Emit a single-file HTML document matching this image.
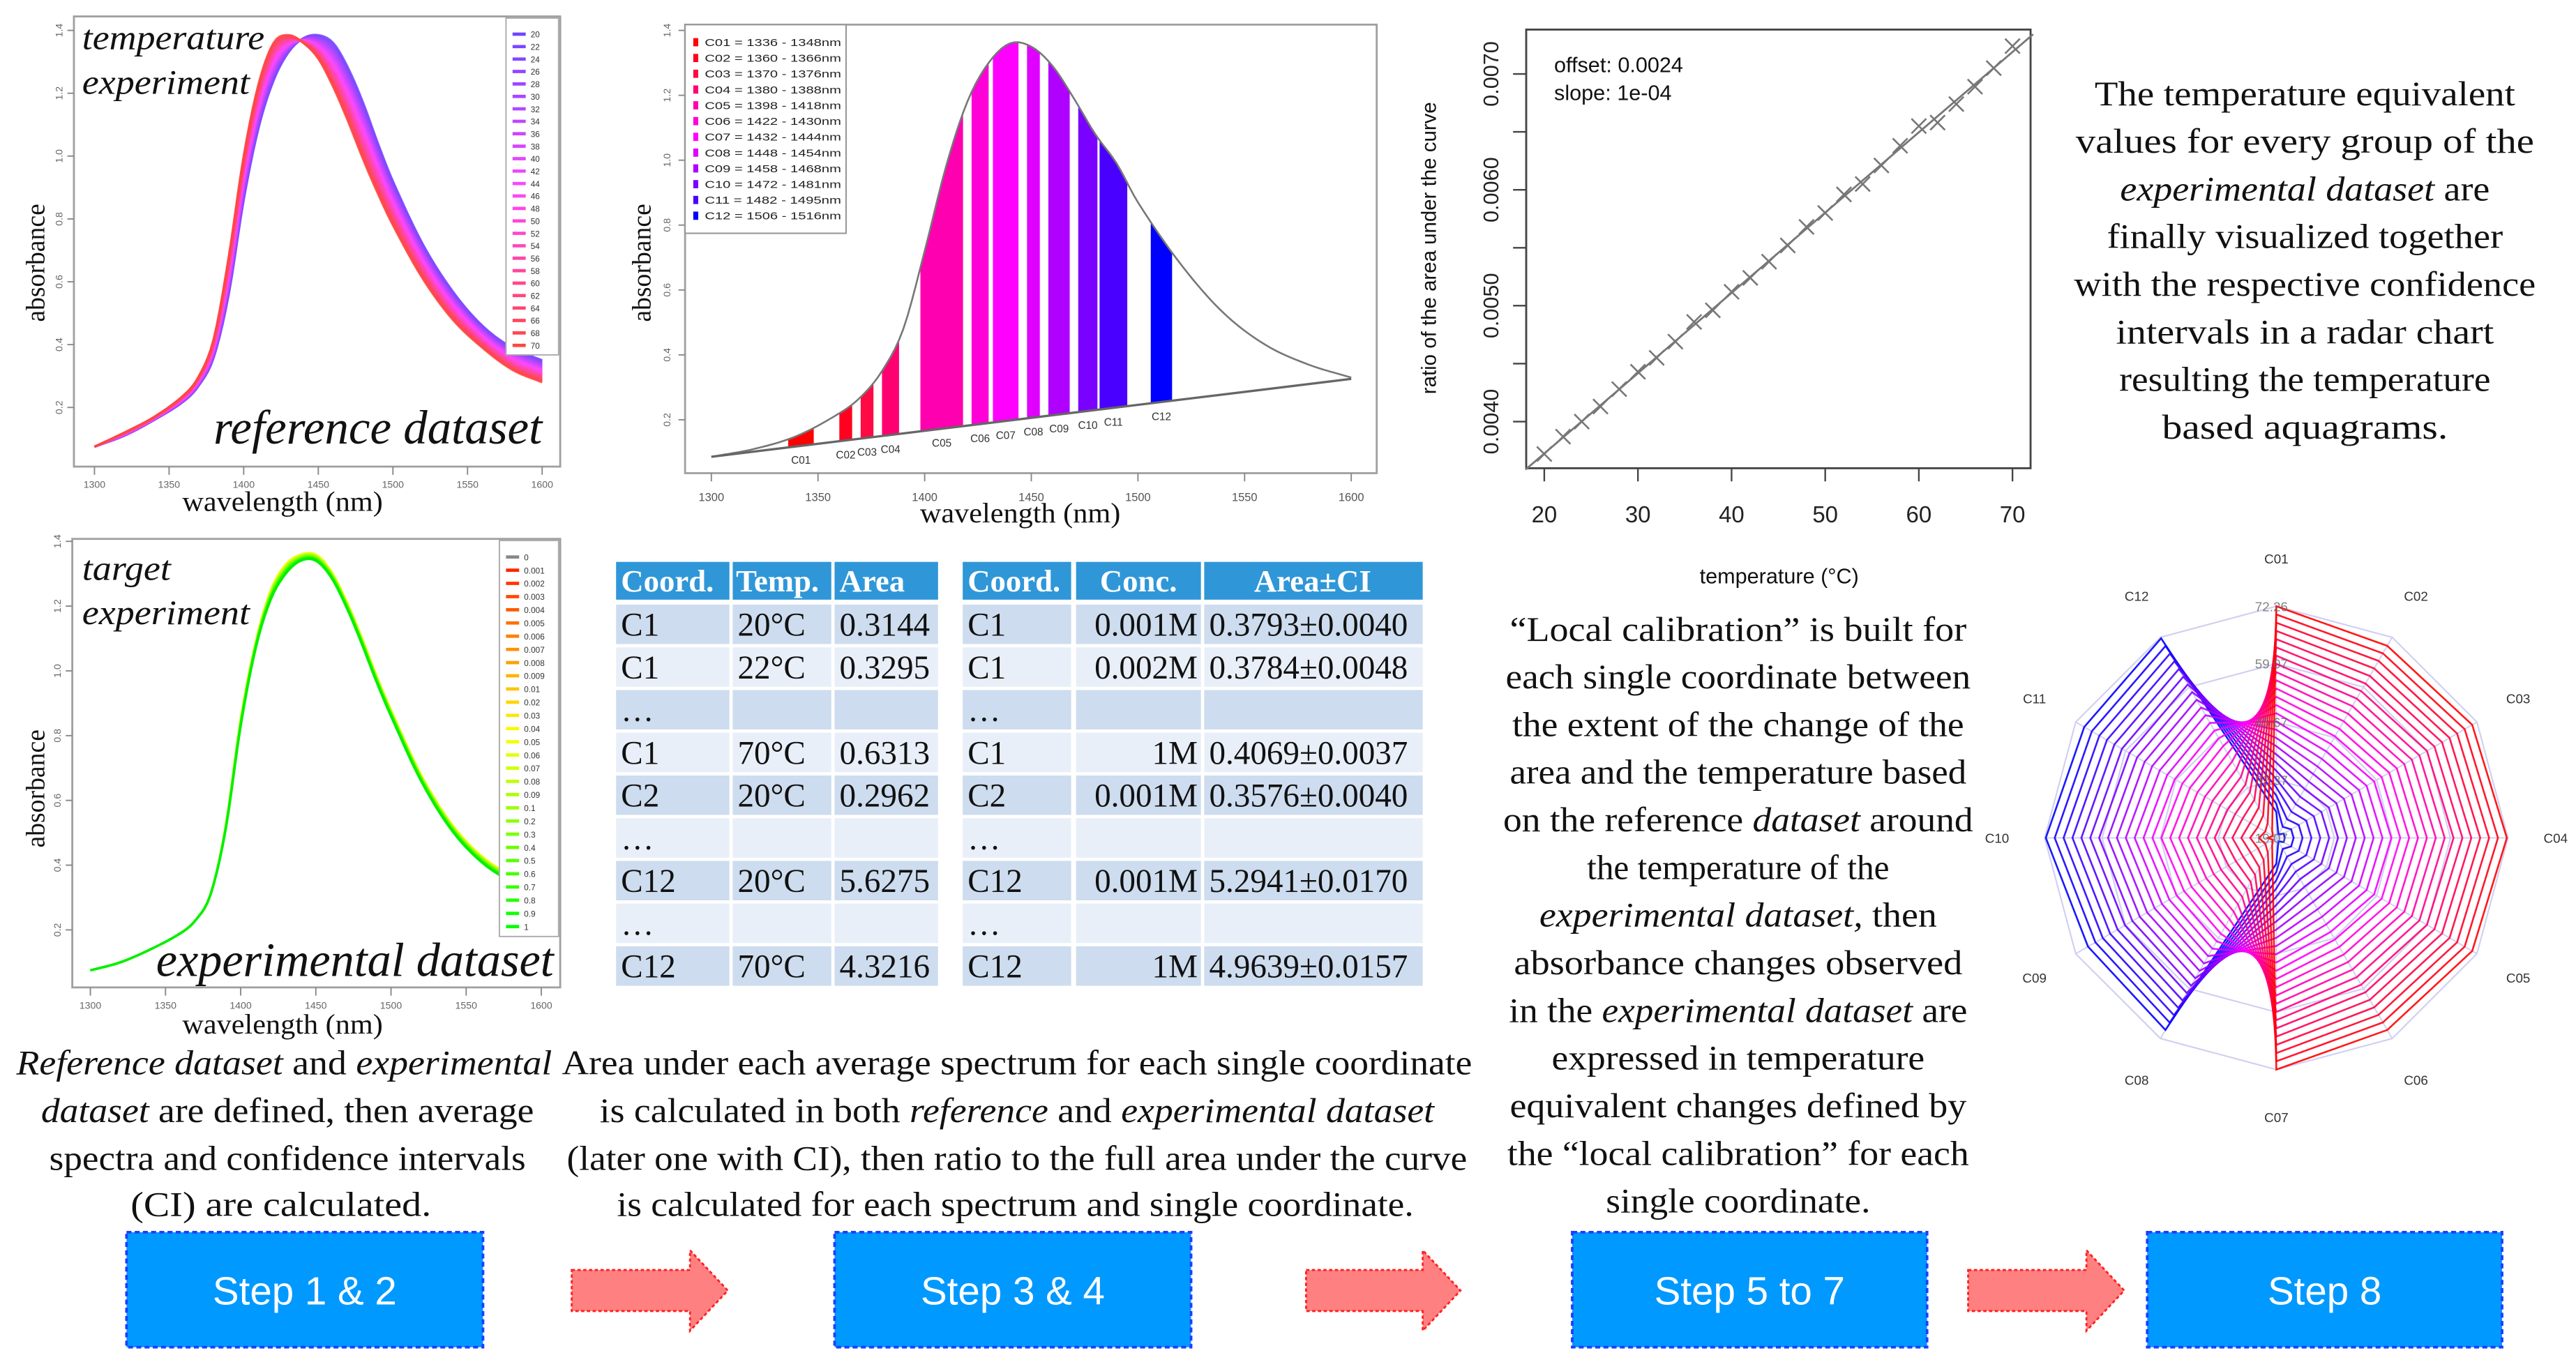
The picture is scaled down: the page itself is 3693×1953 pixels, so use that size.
<!DOCTYPE html>
<html><head><meta charset="utf-8">
<style>html,body{margin:0;padding:0;background:#fff}svg{display:block}</style>
</head><body>
<svg id="root" width="3693" height="1953" viewBox="0 0 1568 829" preserveAspectRatio="none" xmlns="http://www.w3.org/2000/svg" font-family="Liberation Serif, serif">
<rect x="0" y="0" width="1568" height="829" fill="#fff"/>

<!-- right description -->
<g font-size="21" fill="#111" text-anchor="middle">
<text x="1403" y="64" textLength="256" lengthAdjust="spacingAndGlyphs">The temperature equivalent</text>
<text x="1403" y="93" textLength="279" lengthAdjust="spacingAndGlyphs">values for every group of the</text>
<text x="1403" y="122" textLength="225" lengthAdjust="spacingAndGlyphs"><tspan font-style="italic">experimental dataset</tspan> are</text>
<text x="1403" y="151" textLength="241" lengthAdjust="spacingAndGlyphs">finally visualized together</text>
<text x="1403" y="180" textLength="281" lengthAdjust="spacingAndGlyphs">with the respective confidence</text>
<text x="1403" y="209" textLength="230" lengthAdjust="spacingAndGlyphs">intervals in a radar chart</text>
<text x="1403" y="238" textLength="226" lengthAdjust="spacingAndGlyphs">resulting the temperature</text>
<text x="1403" y="267" textLength="174" lengthAdjust="spacingAndGlyphs">based aquagrams.</text>
</g>

<!-- step 5-7 description -->
<g font-size="21" fill="#111" text-anchor="middle">
<text x="1058" y="390" textLength="278" lengthAdjust="spacingAndGlyphs">“Local calibration” is built for</text>
<text x="1058" y="419" textLength="283" lengthAdjust="spacingAndGlyphs">each single coordinate between</text>
<text x="1058" y="448" textLength="275" lengthAdjust="spacingAndGlyphs">the extent of the change of the</text>
<text x="1058" y="477" textLength="278" lengthAdjust="spacingAndGlyphs">area and the temperature based</text>
<text x="1058" y="506" textLength="286" lengthAdjust="spacingAndGlyphs">on the reference <tspan font-style="italic">dataset</tspan> around</text>
<text x="1058" y="535" textLength="184" lengthAdjust="spacingAndGlyphs">the temperature of the</text>
<text x="1058" y="564" textLength="242" lengthAdjust="spacingAndGlyphs"><tspan font-style="italic">experimental dataset,</tspan> then</text>
<text x="1058" y="593" textLength="273" lengthAdjust="spacingAndGlyphs">absorbance changes observed</text>
<text x="1058" y="622" textLength="279" lengthAdjust="spacingAndGlyphs">in the <tspan font-style="italic">experimental dataset</tspan> are</text>
<text x="1058" y="651" textLength="227" lengthAdjust="spacingAndGlyphs">expressed in temperature</text>
<text x="1058" y="680" textLength="278" lengthAdjust="spacingAndGlyphs">equivalent changes defined by</text>
<text x="1058" y="709" textLength="281" lengthAdjust="spacingAndGlyphs">the “local calibration” for each</text>
<text x="1058" y="738" textLength="161" lengthAdjust="spacingAndGlyphs">single coordinate.</text>
</g>

<!-- step 1-2 description -->
<g font-size="21" fill="#111" text-anchor="middle">
<text x="173" y="654" textLength="326" lengthAdjust="spacingAndGlyphs"><tspan font-style="italic">Reference dataset</tspan> and <tspan font-style="italic">experimental</tspan></text>
<text x="175" y="683" textLength="300" lengthAdjust="spacingAndGlyphs"><tspan font-style="italic">dataset</tspan> are defined, then average</text>
<text x="175" y="712" textLength="290" lengthAdjust="spacingAndGlyphs">spectra and confidence intervals</text>
<text x="171" y="740" textLength="183" lengthAdjust="spacingAndGlyphs">(CI)  are calculated.</text>
</g>
<g font-size="21" fill="#111" text-anchor="middle">
<text x="619" y="654" textLength="554" lengthAdjust="spacingAndGlyphs">Area under each average spectrum for each single coordinate</text>
<text x="619" y="683" textLength="508" lengthAdjust="spacingAndGlyphs">is calculated in both <tspan font-style="italic">reference</tspan> and <tspan font-style="italic">experimental dataset</tspan></text>
<text x="619" y="712" textLength="548" lengthAdjust="spacingAndGlyphs">(later one with CI), then ratio to the full area under the curve</text>
<text x="618" y="740" textLength="485" lengthAdjust="spacingAndGlyphs">is calculated for each spectrum and single coordinate.</text>
</g>

<!-- step boxes -->
<g font-family="Liberation Sans, sans-serif" font-size="24" fill="#fff" text-anchor="middle">
<g><rect x="77" y="750" width="217" height="70" fill="#0099ff" stroke="#1f3dff" stroke-width="1.6" stroke-dasharray="3 2"/><text x="185.5" y="794">Step 1 &amp; 2</text></g>
<g><rect x="508" y="750" width="217" height="70" fill="#0099ff" stroke="#1f3dff" stroke-width="1.6" stroke-dasharray="3 2"/><text x="616.5" y="794">Step 3 &amp; 4</text></g>
<g><rect x="957" y="750" width="216" height="70" fill="#0099ff" stroke="#1f3dff" stroke-width="1.6" stroke-dasharray="3 2"/><text x="1065" y="794">Step 5 to 7</text></g>
<g><rect x="1307" y="750" width="216" height="70" fill="#0099ff" stroke="#1f3dff" stroke-width="1.6" stroke-dasharray="3 2"/><text x="1415" y="794">Step 8</text></g>
</g>
<g fill="#ff8080" stroke="#ff2020" stroke-width="1.2" stroke-dasharray="2 1.5">
<polygon points="348,773 420,773 420,761 443,785.5 420,810 420,798 348,798"/>
<polygon points="795,773 866,773 866,761 889,785.5 866,810 866,798 795,798"/>
<polygon points="1198,773 1270,773 1270,761 1293,785.5 1270,810 1270,798 1198,798"/>
</g>

<!-- tables -->
<g font-size="20" fill="#111">
<rect x="375" y="342" width="69" height="23" fill="#2f97d8"/><rect x="446" y="342" width="60" height="23" fill="#2f97d8"/><rect x="508" y="342" width="63" height="23" fill="#2f97d8"/>
<g fill="#fff" font-weight="bold" font-size="19"><text x="378" y="360">Coord.</text><text x="448" y="360">Temp.</text><text x="511" y="360">Area</text></g>
</g>
<g font-size="20" fill="#111">
<rect x="586" y="342" width="66" height="23" fill="#2f97d8"/><rect x="655" y="342" width="76" height="23" fill="#2f97d8"/><rect x="733" y="342" width="133" height="23" fill="#2f97d8"/>
<g fill="#fff" font-weight="bold" font-size="19"><text x="589" y="360">Coord.</text><text x="693" y="360" text-anchor="middle">Conc.</text><text x="799" y="360" text-anchor="middle">Area±CI</text></g>
</g>
<g id="tables"></g>

<g id="p1"></g><g id="p2"></g><g id="p3"></g><g id="p4"></g><g id="radar"></g>
</svg>
<script>
// ---------- DATA ----------
const wl = [1300,1320,1340,1360,1370,1380,1390,1400,1410,1420,1430,1440,1450,1460,1470,1480,1490,1500,1520,1540,1560,1580,1600];
const refTemps = [20,22,24,26,28,30,32,34,36,38,40,42,44,46,48,50,52,54,56,58,60,62,64,66,68,70];
const spec20 = [0.075,0.11,0.16,0.22,0.27,0.36,0.56,0.86,1.09,1.24,1.33,1.375,1.385,1.36,1.28,1.17,1.04,0.92,0.72,0.57,0.46,0.39,0.35];
const spec70 = [0.075,0.12,0.17,0.24,0.30,0.42,0.68,1.00,1.23,1.36,1.385,1.36,1.31,1.22,1.11,0.99,0.88,0.78,0.61,0.48,0.39,0.32,0.28];
const concLabels = ["0","0.001","0.002","0.003","0.004","0.005","0.006","0.007","0.008","0.009","0.01","0.02","0.03","0.04","0.05","0.06","0.07","0.08","0.09","0.1","0.2","0.3","0.4","0.5","0.6","0.7","0.8","0.9","1"];
const specLowConc = [0.075,0.10,0.14,0.19,0.23,0.31,0.52,0.85,1.09,1.25,1.33,1.36,1.36,1.31,1.22,1.11,0.99,0.88,0.68,0.53,0.43,0.37,0.34];
const specHighConc = [0.075,0.10,0.14,0.19,0.23,0.31,0.51,0.83,1.07,1.22,1.30,1.34,1.34,1.29,1.20,1.09,0.97,0.86,0.66,0.51,0.41,0.35,0.32];
const avgSpec = [0.086,0.11,0.15,0.22,0.27,0.35,0.48,0.72,0.98,1.18,1.30,1.36,1.35,1.29,1.19,1.08,0.99,0.87,0.68,0.53,0.43,0.37,0.33];
const baseStart = 0.086, baseEnd = 0.326;
const coordNames = ["C01","C02","C03","C04","C05","C06","C07","C08","C09","C10","C11","C12"];
const coordFrom = [1336,1360,1370,1380,1398,1422,1432,1448,1458,1472,1482,1506];
const coordTo   = [1348,1366,1376,1388,1418,1430,1444,1454,1468,1481,1495,1516];
const coordColors = ["#ff0000","#ff0020","#ff0a45","#ff0070","#ff00b0","#ff00d8","#ff00ff","#e000ff","#b000ff","#7a00ff","#4a00ff","#0000ff"];
const calTemps = [20,22,24,26,28,30,32,34,36,38,40,42,44,46,48,50,52,54,56,58,60,62,64,66,68,70];
const calRatio = [0.00372,0.00387,0.00400,0.00413,0.00428,0.00443,0.00455,0.00469,0.00486,0.00496,0.00512,0.00524,0.00538,0.00552,0.00568,0.00580,0.00596,0.00605,0.00621,0.00638,0.00655,0.00658,0.00674,0.00689,0.00705,0.00724];
const calXTicks = [20,30,40,50,60,70];
const calYTicks = [0.0040,0.0045,0.0050,0.0055,0.0060,0.0065,0.0070];
const calYLabels = ["0.0040","0.0050","0.0060","0.0070"];
const radarRingVals = [19.07,32.37,45.67,59.07,72.26];
const radarLow  = [25,20,21,21,21,20,25,70,69,72,70,72];
const radarHigh = [72.26,70,71,72,71,70,72.26,21,20,21,20,21];
const tableLeft = [["C1","20°C","0.3144"],["C1","22°C","0.3295"],["…","",""],["C1","70°C","0.6313"],["C2","20°C","0.2962"],["…","",""],["C12","20°C","5.6275"],["…","",""],["C12","70°C","4.3216"]];
const tableRight = [["C1","0.001M","0.3793±0.0040"],["C1","0.002M","0.3784±0.0048"],["…","",""],["C1","1M","0.4069±0.0037"],["C2","0.001M","0.3576±0.0040"],["…","",""],["C12","0.001M","5.2941±0.0170"],["…","",""],["C12","1M","4.9639±0.0157"]];

// ---------- helpers ----------
const NS = "http://www.w3.org/2000/svg";
function mk(tag, attrs, parent){const e=document.createElementNS(NS,tag);for(const k in attrs)e.setAttribute(k,attrs[k]);parent.appendChild(e);return e;}
function interp(xs, ys, x){
  let i=0; while(i<xs.length-2 && x>xs[i+1]) i++;
  const x0=xs[i],x1=xs[i+1],t=(x-x0)/(x1-x0);
  const p0=ys[Math.max(0,i-1)],p1=ys[i],p2=ys[i+1],p3=ys[Math.min(ys.length-1,i+2)];
  const h0=xs[Math.max(0,i-1)],h3=xs[Math.min(xs.length-1,i+2)];
  const m1=(p2-p0)/(x1-h0)*(x1-x0), m2=(p3-p1)/(h3-x0)*(x1-x0);
  const t2=t*t,t3=t2*t;
  return (2*t3-3*t2+1)*p1+(t3-2*t2+t)*m1+(-2*t3+3*t2)*p2+(t3-t2)*m2;
}
function curvePath(vals, sx, sy, from, to){
  let d=""; for(let w=from; w<=to+0.001; w+=2){d+=(d?"L":"M")+sx(w).toFixed(2)+","+sy(interp(wl,vals,w)).toFixed(2);} return d;
}
function lerpArr(a,b,t){return a.map((v,i)=>v+(b[i]-v)*t);}

// ---------- tables ----------
(function(){
  const g=document.getElementById('tables');
  const rowCol=i=>i%2===0?"#cddcee":"#e9eff8";
  const colsL=[[375,69],[446,60],[508,63]], colsR=[[586,66],[655,76],[733,133]];
  for(let i=0;i<tableLeft.length;i++){
    const y=368+26*i;
    colsL.forEach((c,j)=>{const r=mk('rect',{x:c[0],y:y,width:c[1],height:24,fill:rowCol(i)},g);
      
      
      const t=mk('text',{x:c[0]+3,y:y+19,'font-size':20,fill:'#111'},g);t.textContent=tableLeft[i][j];
      
      });
    colsR.forEach((c,j)=>{const r=mk('rect',{x:c[0],y:y,width:c[1],height:24,fill:rowCol(i)},g);
      
      
      const t=mk('text',{x:j===1?c[0]+c[1]-2:c[0]+3,y:y+19,'font-size':20,fill:'#111','text-anchor':j===1?'end':'start'},g);t.textContent=tableRight[i][j];
      
      });
  }
})();

// ---------- spectrum panel (1 & 4) ----------
function spectrumPanel(gid, frame, ax, curves, legendBox, legendLabels, legendColors, texts, nameBase){
  const g=document.getElementById(gid);
  
  
  const sx=w=>ax.x0+(w-1300)/300*(ax.x1-ax.x0);
  const sy=a=>ax.y0-(a-0.2)/1.2*(ax.y0-ax.y1);
  const fr=mk('rect',{x:frame[0],y:frame[1],width:frame[2],height:frame[3],fill:'none',stroke:'#a0a0a0','stroke-width':1.2},g);
  
  
  curves.forEach(c=>{const p=mk('path',{d:curvePath(c.vals,sx,sy,1300,1600),fill:'none',stroke:c.color,'stroke-width':1.4,'stroke-opacity':0.85},g);
    
    });
  [1300,1350,1400,1450,1500,1550,1600].forEach(w=>{
    const l=mk('line',{x1:sx(w),x2:sx(w),y1:frame[1]+frame[3],y2:frame[1]+frame[3]+5,stroke:'#888','stroke-width':0.8},g);
    
    
    const t=mk('text',{x:sx(w),y:frame[1]+frame[3]+13,'font-size':6,'text-anchor':'middle',fill:'#666','font-family':'Liberation Sans, sans-serif'},g);t.textContent=w;
    
    
  });
  [0.2,0.4,0.6,0.8,1.0,1.2,1.4].forEach(a=>{
    const l=mk('line',{x1:frame[0],x2:frame[0]-4,y1:sy(a),y2:sy(a),stroke:'#888','stroke-width':0.8},g);
    
    
    const t=mk('text',{x:0,y:0,'font-size':6,'text-anchor':'middle',fill:'#666','font-family':'Liberation Sans, sans-serif',transform:`translate(${frame[0]-7},${sy(a)}) rotate(-90)`},g);t.textContent=a.toFixed(1);
    
    
  });
  const lb=mk('rect',{x:legendBox[0],y:legendBox[1],width:legendBox[2],height:legendBox[3],fill:'#fff',stroke:'#aaa','stroke-width':0.8},g);
  
  
  const pitch=(legendBox[3]-8)/legendLabels.length;
  legendLabels.forEach((lab,i)=>{
    const y=legendBox[1]+6+pitch*(i+0.5);
    const l=mk('line',{x1:legendBox[0]+4,x2:legendBox[0]+12,y1:y,y2:y,stroke:legendColors[i],'stroke-width':2},g);
    
    
    const t=mk('text',{x:legendBox[0]+15,y:y+2,'font-size':5,fill:'#333','font-family':'Liberation Sans, sans-serif'},g);t.textContent=lab;
    
    
  });
  texts.forEach(tx=>{const t=mk('text',tx.a,g);t.textContent=tx.s;
    
    });
}
function tempColor(t){ // 0 blue -> 1 red
  const r=t<0.5?Math.round(110+290*t):255, b=t<0.5?255:Math.round(255-(t-0.5)*2*190);
  return `rgb(${r},70,${b})`;
}
(function(){
  const curves=refTemps.map((T,i)=>({vals:lerpArr(spec20,spec70,i/(refTemps.length-1)),color:tempColor(i/(refTemps.length-1))}));
  spectrumPanel('p1',[45,10,296,274],{x0:57.5,x1:330,y0:248,y1:18.5},curves,[308,11,32,205],refTemps.map(String),curves.map(c=>c.color),[
    {s:'temperature',n:'annotation-temperature',a:{x:50,y:30,'font-size':21,'font-style':'italic',fill:'#111',textLength:111,lengthAdjust:'spacingAndGlyphs'}},
    {s:'experiment',n:'annotation-experiment',a:{x:50,y:57,'font-size':21,'font-style':'italic',fill:'#111',textLength:102,lengthAdjust:'spacingAndGlyphs'}},
    {s:'reference dataset',n:'annotation-reference-dataset',a:{x:130,y:270,'font-size':29,'font-style':'italic',fill:'#111',textLength:200,lengthAdjust:'spacingAndGlyphs'}},
    {s:'wavelength (nm)',n:'x-axis-title',a:{x:172,y:311,'font-size':17,'text-anchor':'middle',fill:'#111',textLength:122,lengthAdjust:'spacingAndGlyphs'}},
    {s:'absorbance',n:'y-axis-title',a:{x:0,y:0,'font-size':16,'text-anchor':'middle',fill:'#111',transform:'translate(27,160) rotate(-90)'}}
  ],'reference-spectra');
})();
(function(){
  const n=concLabels.length;
  const legendColors=concLabels.map((c,i)=>{
    const t=i/(n-1); return i===0?'#888':`hsl(${Math.round(5+115*t)},100%,50%)`;
  });
  const curves=concLabels.slice(1).map((c,i)=>{
    const t=(i+1)/(n-1);
    return {vals:lerpArr(specLowConc,specHighConc,t),color:`hsl(${Math.round(55+65*t)},100%,${Math.round(55-8*t)}%)`};
  });
  spectrumPanel('p4',[44,328,297,273],{x0:55,x1:329.5,y0:566,y1:329.5},curves,[304,329,36,241],concLabels,legendColors,[
    {s:'target',n:'annotation-target',a:{x:50,y:353,'font-size':21,'font-style':'italic',fill:'#111',textLength:54,lengthAdjust:'spacingAndGlyphs'}},
    {s:'experiment',n:'annotation-experiment-2',a:{x:50,y:380,'font-size':21,'font-style':'italic',fill:'#111',textLength:102,lengthAdjust:'spacingAndGlyphs'}},
    {s:'experimental dataset',n:'annotation-experimental-dataset',a:{x:95,y:594,'font-size':29,'font-style':'italic',fill:'#111',textLength:242,lengthAdjust:'spacingAndGlyphs'}},
    {s:'wavelength (nm)',n:'x-axis-title-2',a:{x:172,y:629,'font-size':17,'text-anchor':'middle',fill:'#111',textLength:122,lengthAdjust:'spacingAndGlyphs'}},
    {s:'absorbance',n:'y-axis-title-2',a:{x:0,y:0,'font-size':16,'text-anchor':'middle',fill:'#111',transform:'translate(27,480) rotate(-90)'}}
  ],'experimental-spectra');
})();

// ---------- panel 2 coordinates ----------
(function(){
  const g=document.getElementById('p2');
  
  
  const x0=433,x1=822.5,y0=255.5,y1=18.5;
  const sx=w=>x0+(w-1300)/300*(x1-x0);
  const sy=a=>y0-(a-0.2)/1.2*(y0-y1);
  const base=w=>baseStart+(baseEnd-baseStart)*(w-1300)/300;
  const fr=mk('rect',{x:417,y:15,width:421,height:273,fill:'none',stroke:'#a0a0a0','stroke-width':1.2},g);
  
  
  coordNames.forEach((nm,i)=>{
    let top="",bot="";
    for(let w=coordFrom[i]; w<=coordTo[i]+0.001; w+=0.5){top+=(top?"L":"M")+sx(w).toFixed(2)+","+sy(interp(wl,avgSpec,w)).toFixed(2);}
    bot="L"+sx(coordTo[i]).toFixed(2)+","+sy(base(coordTo[i])).toFixed(2)+"L"+sx(coordFrom[i]).toFixed(2)+","+sy(base(coordFrom[i])).toFixed(2)+"Z";
    const p=mk('path',{d:top+bot,fill:coordColors[i]},g);
    
    
    const mid=(coordFrom[i]+coordTo[i])/2;
    const t=mk('text',{x:sx(mid),y:sy(base(mid))+11,'font-size':6.5,'text-anchor':'middle',fill:'#333','font-family':'Liberation Sans, sans-serif'},g);t.textContent=nm;
    
    
  });
  const c=mk('path',{d:curvePath(avgSpec,sx,sy,1300,1600),fill:'none',stroke:'#777','stroke-width':1.1},g);
  
  
  const bl=mk('line',{x1:sx(1300),y1:sy(baseStart),x2:sx(1600),y2:sy(baseEnd),stroke:'#666','stroke-width':1.4},g);
  
  
  [1300,1350,1400,1450,1500,1550,1600].forEach(w=>{
    const l=mk('line',{x1:sx(w),x2:sx(w),y1:288,y2:293,stroke:'#888','stroke-width':0.8},g);
    
    
    const t=mk('text',{x:sx(w),y:305,'font-size':7,'text-anchor':'middle',fill:'#555','font-family':'Liberation Sans, sans-serif'},g);t.textContent=w;
    
    
  });
  [0.2,0.4,0.6,0.8,1.0,1.2,1.4].forEach(a=>{
    const l=mk('line',{x1:417,x2:413,y1:sy(a),y2:sy(a),stroke:'#888','stroke-width':0.8},g);
    
    
    const t=mk('text',{x:0,y:0,'font-size':6,'text-anchor':'middle',fill:'#666','font-family':'Liberation Sans, sans-serif',transform:`translate(408,${sy(a)}) rotate(-90)`},g);t.textContent=a.toFixed(1);
    
    
  });
  const lb=mk('rect',{x:417,y:15,width:98,height:127,fill:'#fff',stroke:'#999','stroke-width':0.9},g);
  
  
  coordNames.forEach((nm,i)=>{
    const y=25.7+9.6*i;
    const r=mk('rect',{x:422,y:y-2.5,width:3,height:5,fill:coordColors[i]},g);
    
    
    const t=mk('text',{x:429,y:y+2.3,'font-size':6.3,fill:'#222','font-family':'Liberation Sans, sans-serif',textLength:83,lengthAdjust:'spacingAndGlyphs'},g);
    t.textContent=nm+" = "+coordFrom[i]+" - "+coordTo[i]+"nm";
    
    
  });
  const xt=mk('text',{x:621,y:318,'font-size':17,'text-anchor':'middle',fill:'#111',textLength:122,lengthAdjust:'spacingAndGlyphs'},g);xt.textContent='wavelength (nm)';
  
  
  const yt=mk('text',{x:0,y:0,'font-size':16,'text-anchor':'middle',fill:'#111',transform:'translate(396,160) rotate(-90)'},g);yt.textContent='absorbance';
  
  
})();

// ---------- panel 3 calibration ----------
(function(){
  const g=document.getElementById('p3');
  
  
  const sx=T=>940+(T-20)/50*(1225-940);
  const sy=v=>256.6-(v-0.004)/0.003*(256.6-45);
  const fr=mk('rect',{x:929,y:18,width:307,height:267,fill:'none',stroke:'#444','stroke-width':1.2},g);
  
  
  const n=calTemps.length; let mx=0,my=0; calTemps.forEach((t,i)=>{mx+=t;my+=calRatio[i];}); mx/=n;my/=n;
  let sxy=0,sxx=0; calTemps.forEach((t,i)=>{sxy+=(t-mx)*(calRatio[i]-my);sxx+=(t-mx)*(t-mx);});
  const b=sxy/sxx,a=my-b*mx;
  const Ta=18,Tb=72.2;
  const rl=mk('line',{x1:sx(Ta),y1:sy(a+b*Ta),x2:sx(Tb),y2:sy(a+b*Tb),stroke:'#777','stroke-width':1.2},g);
  
  
  calTemps.forEach((T,i)=>{
    const x=sx(T),y=sy(calRatio[i]),s=4.5;
    const p=mk('path',{d:`M${x-s},${y-s}L${x+s},${y+s}M${x-s},${y+s}L${x+s},${y-s}`,stroke:'#777','stroke-width':1.1,fill:'none'},g);
    
    
  });
  calXTicks.forEach(T=>{
    const l=mk('line',{x1:sx(T),x2:sx(T),y1:285,y2:293,stroke:'#444','stroke-width':1},g);
    
    
    const t=mk('text',{x:sx(T),y:318,'font-size':14,'text-anchor':'middle',fill:'#222','font-family':'Liberation Sans, sans-serif'},g);t.textContent=T;
    
    
  });
  calYTicks.forEach(v=>{
    const l=mk('line',{x1:929,x2:921,y1:sy(v),y2:sy(v),stroke:'#444','stroke-width':1},g);
    
    
  });
  calYLabels.forEach(s=>{
    const t=mk('text',{x:0,y:0,'font-size':13,'text-anchor':'middle',fill:'#222','font-family':'Liberation Sans, sans-serif',transform:`translate(912,${sy(parseFloat(s))}) rotate(-90)`},g);t.textContent=s;
    
    
  });
  const o=mk('text',{x:946,y:44,'font-size':13,fill:'#111','font-family':'Liberation Sans, sans-serif'},g);o.textContent='offset: 0.0024';
  
  
  const s2=mk('text',{x:946,y:61,'font-size':13,fill:'#111','font-family':'Liberation Sans, sans-serif'},g);s2.textContent='slope: 1e-04';
  
  
  const xt=mk('text',{x:1083,y:355,'font-size':13,'text-anchor':'middle',fill:'#111','font-family':'Liberation Sans, sans-serif'},g);xt.textContent='temperature (°C)';
  
  
  const yt=mk('text',{x:0,y:0,'font-size':12.5,'text-anchor':'middle',fill:'#111','font-family':'Liberation Sans, sans-serif',transform:'translate(874,151) rotate(-90)'},g);yt.textContent='ratio of the area under the curve';
  
  
})();

// ---------- radar ----------
(function(){
  const g=document.getElementById('radar');
  
  
  const cx=1385.6,cy=510,R=141;
  const vmin=radarRingVals[0],vmax=radarRingVals[radarRingVals.length-1];
  const rr=v=>Math.max(0,(v-vmin)/(vmax-vmin)*R);
  const ang=i=>(-90+30*i)*Math.PI/180;
  const pt=(i,r)=>[cx+r*Math.cos(ang(i)),cy+r*Math.sin(ang(i))];
  radarRingVals.forEach(v=>{
    const r=rr(v); if(r<=0) return;
    const pts=coordNames.map((_,i)=>pt(i,r).map(n=>n.toFixed(2)).join(',')).join(' ');
    const p=mk('polygon',{points:pts,fill:'none',stroke:'#cfcff2','stroke-width':0.9},g);
    
    
  });
  coordNames.forEach((nm,i)=>{
    const e=pt(i,R);
    const l=mk('line',{x1:cx,y1:cy,x2:e[0],y2:e[1],stroke:'#cfcff2','stroke-width':0.8},g);
    
    
  });
  const n=refTemps.length;
  refTemps.forEach((T,k)=>{
    const t=k/(n-1);
    const vals=lerpArr(radarLow,radarHigh,t);
    const pts=vals.map((v,i)=>pt(i,rr(v)).map(q=>q.toFixed(2)).join(',')).join(' ');
    const col=t<0.5?`rgb(${Math.round(510*t)},0,255)`:`rgb(255,0,${Math.round(255-(t-0.5)*510)})`;
    const p=mk('polygon',{points:pts,fill:'none',stroke:col,'stroke-width':1.1,'stroke-opacity':0.9},g);
    
    
  });
  radarRingVals.forEach(v=>{
    const t=mk('text',{x:cx-3,y:cy-rr(v)+3,'font-size':8,'text-anchor':'middle',fill:'#666','font-family':'Liberation Sans, sans-serif','fill-opacity':0.8},g);
    t.textContent=v.toFixed(2);
    
    
  });
  coordNames.forEach((nm,i)=>{
    const p=pt(i,170);
    const t=mk('text',{x:p[0],y:p[1]+3,'font-size':8,'text-anchor':'middle',fill:'#333','font-family':'Liberation Sans, sans-serif'},g);t.textContent=nm;
    
    
  });
})();
</script>
</body></html>
